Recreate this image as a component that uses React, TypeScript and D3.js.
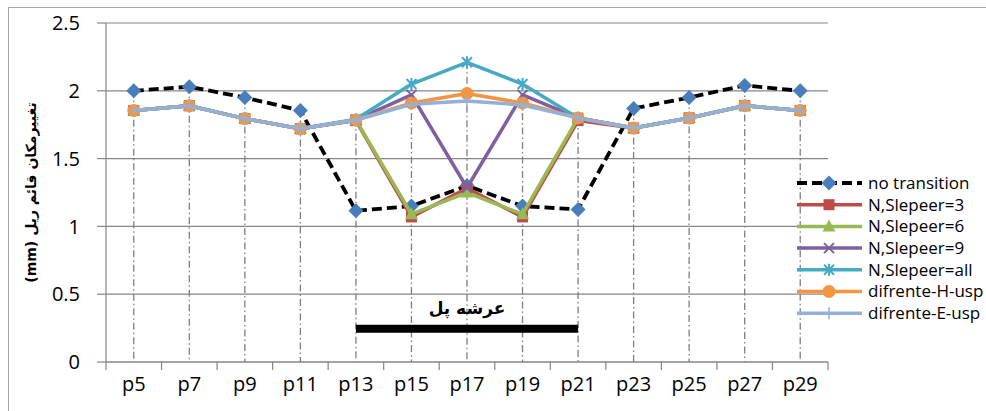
import React from "react";
import * as d3 from "d3";

const categories = ["p5","p7","p9","p11","p13","p15","p17","p19","p21","p23","p25","p27","p29"];
const yTicks = [0, 0.5, 1, 1.5, 2, 2.5];

const noTransition = [2.0, 2.03, 1.95, 1.855, 1.115, 1.15, 1.3, 1.15, 1.125, 1.87, 1.95, 2.04, 2.0];
const nSleeper3 = [1.855, 1.89, 1.795, 1.72, 1.78, 1.07, 1.28, 1.07, 1.78, 1.725, 1.8, 1.89, 1.855];
const nSleeper6 = [1.855, 1.89, 1.795, 1.72, 1.785, 1.09, 1.25, 1.09, 1.8, 1.725, 1.8, 1.89, 1.855];
const nSleeper9 = [1.855, 1.89, 1.795, 1.72, 1.785, 1.97, 1.285, 1.97, 1.8, 1.725, 1.8, 1.89, 1.855];
const nSleeperAll = [1.855, 1.89, 1.795, 1.72, 1.79, 2.05, 2.21, 2.05, 1.8, 1.725, 1.8, 1.89, 1.855];
const hUsp = [1.855, 1.89, 1.795, 1.72, 1.785, 1.91, 1.98, 1.91, 1.8, 1.725, 1.8, 1.89, 1.855];
const eUsp = [1.855, 1.89, 1.795, 1.72, 1.785, 1.9, 1.925, 1.895, 1.8, 1.725, 1.8, 1.89, 1.855];

const seriesNames = ["no transition","N,Slepeer=3","N,Slepeer=6","N,Slepeer=9","N,Slepeer=all","difrente-H-usp","difrente-E-usp"];
const seriesColors = ["#000000","#BE4B48","#98B954","#7D60A0","#46AAC5","#F59443","#93B1D6"];
const markerColors = ["#4A7EBB","#BE4B48","#98B954","#7D60A0","#46AAC5","#F59443","#93B1D6"];
const markerTypes = ["diamond","square","triangle","x","asterisk","circle","plus"];
const seriesData = [noTransition, nSleeper3, nSleeper6, nSleeper9, nSleeperAll, hUsp, eUsp];

const bridgeLabel = "عرشه پل";
const bridgeStart = "p13";
const bridgeEnd = "p21";
const bridgeLevel = 0.245;
const bridgeTextLevel = 0.4;
const yTitle = "(mm) تغییرمکان قائم ریل";

const W = 986, H = 411;
const left = 106, right = 828, top = 23, bottom = 362;

function Marker({ type, x, y, color }: { type: string; x: number; y: number; color: string }) {
  switch (type) {
    case "diamond":
      return <path d={`M${x},${y - 7.5}L${x + 7.5},${y}L${x},${y + 7.5}L${x - 7.5},${y}Z`} fill={color} />;
    case "square":
      return <rect x={x - 5.5} y={y - 5.5} width={11} height={11} fill={color} />;
    case "triangle":
      return <path d={`M${x},${y - 7}L${x + 6.5},${y + 5}L${x - 6.5},${y + 5}Z`} fill={color} />;
    case "x":
      return <path d={`M${x - 5},${y - 5}L${x + 5},${y + 5}M${x - 5},${y + 5}L${x + 5},${y - 5}`} stroke={color} strokeWidth={2} />;
    case "asterisk":
      return <path d={`M${x - 5},${y - 5}L${x + 5},${y + 5}M${x - 5},${y + 5}L${x + 5},${y - 5}M${x},${y - 6}L${x},${y + 6}`} stroke={color} strokeWidth={2} />;
    case "circle":
      return <circle cx={x} cy={y} r={6.5} fill={color} />;
    case "plus":
      return <path d={`M${x - 5},${y}L${x + 5},${y}M${x},${y - 6}L${x},${y + 6}`} stroke={color} strokeWidth={1.5} />;
  }
  return null;
}

export default function App() {
  const x = d3.scaleBand<string>().domain(categories).range([left, right]).padding(0);
  const y = d3.scaleLinear().domain([0, 2.5]).range([bottom, top]);
  const cx = (c: string) => (x(c) as number) + x.bandwidth() / 2;
  const line = d3.line<number>().x((_, i) => cx(categories[i])).y((d) => y(d));
  const maxes = categories.map((_, i) => d3.max(seriesData, (s) => s[i]) as number);
  const legendX = 797, legendY = 183, legendStep = 21.7;
  const font = "'Open Sans', sans-serif";

  return (
    <svg width={W} height={H} style={{ position: "absolute", left: 0, top: 0, background: "#fff" }}>
      <defs>
        <filter id="shadow" x="-5%" y="-100%" width="110%" height="400%">
          <feGaussianBlur stdDeviation="2.5" />
        </filter>
      </defs>
      <rect x={8.5} y={7.5} width={1000} height={420} fill="#fff" stroke="#a6a6a6" strokeWidth={1} />
      {yTicks.map((t) => (
        <line key={t} x1={left} x2={right} y1={y(t)} y2={y(t)} stroke="#868686" strokeWidth={1.2} />
      ))}
      <line x1={left} x2={left} y1={top} y2={bottom} stroke="#868686" strokeWidth={1.2} />
      {yTicks.map((t) => (
        <g key={"yt" + t}>
          <line x1={left - 9} x2={left} y1={y(t)} y2={y(t)} stroke="#868686" strokeWidth={1.2} />
          <text x={80} y={y(t)} dy="0.36em" textAnchor="end" fontFamily={font} fontSize={20} fill="#000">
            {d3.format("")(t)}
          </text>
        </g>
      ))}
      {categories.map((c) => (
        <line key={"xt" + c} x1={x(c)} x2={x(c)} y1={bottom} y2={bottom + 8} stroke="#868686" strokeWidth={1.2} />
      ))}
      <line x1={right} x2={right} y1={bottom} y2={bottom + 8} stroke="#868686" strokeWidth={1.2} />
      {categories.map((c) => (
        <text key={"xl" + c} x={cx(c)} y={391} textAnchor="middle" fontFamily={font} fontSize={20} fill="#000">
          {c}
        </text>
      ))}
      {categories.map((c, i) => (
        <line key={"dl" + c} x1={cx(c)} x2={cx(c)} y1={y(maxes[i])} y2={bottom} stroke="#7f7f7f" strokeWidth={1.3} strokeDasharray="7,3,1.5,3" />
      ))}
      <line x1={cx(bridgeStart)} x2={cx(bridgeEnd)} y1={y(bridgeLevel) + 3} y2={y(bridgeLevel) + 3} stroke="#000" strokeOpacity={0.5} strokeWidth={8} filter="url(#shadow)" />
      <line x1={cx(bridgeStart)} x2={cx(bridgeEnd)} y1={y(bridgeLevel)} y2={y(bridgeLevel)} stroke="#000" strokeWidth={8} />
      <text x={(cx(bridgeStart) + cx(bridgeEnd)) / 2} y={y(bridgeTextLevel)} dy="0.35em" textAnchor="middle" fontFamily="'DejaVu Sans', sans-serif" fontWeight="bold" fontSize={17} fill="#000">
        {bridgeLabel}
      </text>
      <line x1={left} x2={right} y1={bottom} y2={bottom} stroke="#868686" strokeWidth={1.2} />
      {seriesData.map((s, si) => (
        <g key={"s" + si}>
          <path d={line(s) as string} fill="none" stroke={seriesColors[si]} strokeWidth={si === 0 ? 3.8 : 3.5} strokeDasharray={si === 0 ? "10,5" : undefined} strokeLinejoin="round" />
          {s.map((v, i) => (
            <Marker key={i} type={markerTypes[si]} x={cx(categories[i])} y={y(v)} color={markerColors[si]} />
          ))}
        </g>
      ))}
      {seriesNames.map((n, i) => (
        <g key={"lg" + i}>
          <line x1={legendX} x2={legendX + 65} y1={legendY + i * legendStep} y2={legendY + i * legendStep} stroke={seriesColors[i]} strokeWidth={i === 0 ? 3.8 : 3.5} strokeDasharray={i === 0 ? "10,5" : undefined} />
          <Marker type={markerTypes[i]} x={legendX + 32} y={legendY + i * legendStep} color={markerColors[i]} />
          <text x={legendX + 71} y={legendY + i * legendStep} dy="0.35em" fontFamily={font} fontSize={17} fill="#000">
            {n}
          </text>
        </g>
      ))}
      <text transform={`translate(31,${(115 + 270) / 2}) rotate(-90)`} textAnchor="middle" dy="0.35em" fontFamily="'DejaVu Sans', sans-serif" fontWeight="bold" fontSize={14} fill="#000">
        {yTitle}
      </text>
    </svg>
  );
}
